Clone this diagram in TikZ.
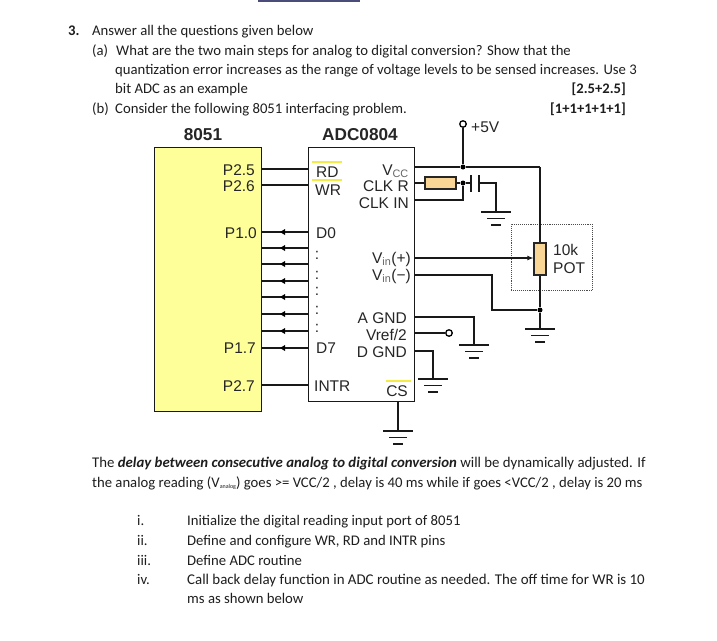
\documentclass[tikz,border=0pt]{standalone}
\usepackage{fontspec}
\setmainfont{Carlito}
\newfontfamily\diagfont{Liberation Sans}
\usetikzlibrary{arrows.meta}
\definecolor{chipyellow}{RGB}{255,255,153}
\definecolor{resfill}{RGB}{250,214,150}
\definecolor{barline}{RGB}{245,235,70}
\definecolor{inktext}{RGB}{30,30,30}
\tikzset{
  x=1pt,y=-1pt,
  body/.style={anchor=base west,inner sep=0,text=inktext,font=\fontsize{14.7}{17}\selectfont},
  bodyb/.style={inner sep=0,anchor=base east,text=inktext,font=\bfseries\fontsize{14.6}{17}\selectfont},
  lbl/.style={inner sep=0,text=black!85,font=\diagfont\fontsize{15.5}{18}\selectfont},
  lblw/.style={lbl,anchor=base west},
  lble/.style={lbl,anchor=base east},
  ttl/.style={lbl,anchor=base,font=\diagfont\bfseries\fontsize{17.2}{19}\selectfont},
  wire/.style={line width=1.1pt,draw=black!90},
  thick wire/.style={line width=1.5pt,draw=black!90},
  chip/.style={draw=black!90,line width=1.3pt,inner sep=0,minimum width=0},
  bar/.style={draw=barline,line width=1.3pt},
  res/.style={draw=black!85,line width=1.2pt,fill=resfill},
  dot/.style={circle,fill=black,inner sep=0,minimum size=5pt},
  open/.style={circle,draw=black,line width=1.3pt,fill=white,inner sep=0,minimum size=6.5pt},
  gnd/.pic={
    \draw[thick wire] (-15,0) -- (15,0);
    \draw[thick wire] (-9,6.5) -- (9,6.5);
    \draw[thick wire] (-5,13) -- (5,13);
  },
}
\begin{document}
\begin{tikzpicture}
\useasboundingbox (0,0) rectangle (717,640);
\fill[fill=white] (0,0) rectangle (717,640);
\fill[black!55!blue!40!gray] (258,0) rectangle (360,1.5);

% question text
\node[body,font=\bfseries\fontsize{14.7}{17}\selectfont] (qno) at (68,35.7) {3.};
\node[body] (t1) at (92,35.7) {Answer all the questions given below};
\node[body] (t2a) at (92,55) {(a)};
\node[body] (t2) at (116,55) {What are the two main steps for analog to digital conversion? Show that the};
\node[body] (t3) at (115,74.5) {quantization error increases as the range of voltage levels to be sensed increases. Use 3};
\node[body] (t4) at (115,93.5) {bit ADC as an example};
\node[bodyb] (m1) at (626,93.5) {[2.5+2.5]};
\node[body] (t5a) at (92,113) {(b)};
\node[body] (t5) at (115,113) {Consider the following 8051 interfacing problem.};
\node[bodyb] (m2) at (626,113) {[1+1+1+1+1]};

% chips
\node[chip,fill=chipyellow,anchor=north west,minimum width=107pt,minimum height=264pt] (mcu) at (154,147) {};
\node[chip,fill=white,anchor=north west,minimum width=106pt,minimum height=254pt] (adc) at (308,147) {};
\node[ttl] (mcut) at (203,140) {8051};
\node[ttl] (adct) at (360,140) {ADC0804};

% control lines
\foreach \n/\y in {p25/169,p26/185,intr/385} {
  \coordinate (\n m) at (261,\y);
  \coordinate (\n a) at (308,\y);
  \draw[thick wire] (\n m) -- (\n a);
}
% data lines
\foreach \n/\y in {0/232,1/248,2/264,3/281,4/297,5/314,6/331,7/348} {
  \coordinate (d\n m) at (261,\y);
  \coordinate (d\n a) at (308,\y);
  \coordinate (d\n t) at (280,\y);
  \draw[thick wire] (d\n a) -- (d\n t);
  \draw[thick wire] (d\n t) -- (d\n m);
  \fill[black] (d\n t) -- +(5,-3) -- +(5,3) -- cycle;
}

% pin labels, 8051
\node[lble] (lp25) at (255,175) {P2.5};
\node[lble] (lp26) at (255,191) {P2.6};
\node[lble] (lp10) at (257,238) {P1.0};
\node[lble] (lp17) at (256,353) {P1.7};
\node[lble] (lp27) at (255,391) {P2.7};

% pin labels, ADC
\node[lblw] (lrd) at (316,177) {RD};
\node[lblw] (lwr) at (315,195) {WR};
\node[lblw] (ld0) at (316,238) {D0};
\foreach \i/\y in {a/259,b/279,c/295,d/314,e/332} {
  \node[lbl,anchor=base] (dots\i) at (317,\y) {:};
}
\node[lblw] (ld7) at (316,353) {D7};
\node[lblw] (lintr) at (314,391) {INTR};
\node[lble] (lvcc) at (409,175) {V\textsubscript{\textcolor{black!60}{CC}}};
\node[lble] (lclkr) at (409,191) {CLK R};
\node[lble] (lclki) at (409,208) {CLK IN};
\node[lble] (lvp) at (411,263) {V\textsubscript{\textcolor{black!60}{in}}(+)};
\node[lble] (lvm) at (411,280) {V\textsubscript{\textcolor{black!60}{in}}(−)};
\node[lble] (lagnd) at (407,323) {A GND};
\node[lble] (lvref) at (407,340) {Vref/2};
\node[lble] (ldgnd) at (407,357) {D GND};
\node[lble] (lcs) at (408,396) {CS};
\draw[bar] (312,162) -- (342,162);
\draw[bar] (312,180) -- (342,180);
\draw[bar] (386,381) -- (411,381);

% named points of the analog side
\coordinate (vccpin) at (414,167);
\coordinate (clkrpin) at (414,183);
\coordinate (clkipin) at (414,200);
\coordinate (vppin) at (414,258);
\coordinate (vmpin) at (414,275);
\coordinate (agpin) at (414,317);
\coordinate (vrpin) at (414,333);
\coordinate (dgpin) at (414,351);
\coordinate (cspin) at (398,401);
\coordinate (vmturn) at (492,275);
\coordinate (clkturn) at (463,200);
\coordinate (capturn) at (496,183);
\coordinate (potturn) at (540,167);
\coordinate (agturn) at (474,317);
\coordinate (dgturn) at (433,351);
\coordinate (g1) at (496,212);
\coordinate (g2) at (540,329);
\coordinate (g3) at (474,345);
\coordinate (g4) at (433,379);
\coordinate (g5) at (398,431);

\node[dot] (jvcc) at (463,167) {};
\node[open] (p5v) at (463,124) {};
\node[lblw] (l5v) at (471,132) {+5V};
\node[dot] (jclk) at (463,183) {};
\node[dot] (jgnd) at (540,310) {};
\node[open] (vrout) at (449,333) {};

% supply
\draw[wire] (vccpin) -- (jvcc);
\draw[thick wire] (jvcc) -- (p5v);
\draw[wire] (jvcc) -- (potturn);

% RC clock
\node[res,draw,minimum width=31pt,minimum height=12pt,inner sep=0] (rclk) at (440.5,183) {};
\coordinate (c1) at (471,183);
\coordinate (c2) at (479,183);
\draw[wire] (clkrpin) -- (rclk);
\draw[thick wire] (rclk) -- (jclk);
\draw[thick wire] (jclk) -- (c1);
\draw[thick wire] (c1 |- 0,175) -- (c1 |- 0,192);
\draw[thick wire] (c2 |- 0,175) -- (c2 |- 0,192);
\draw[wire] (c2) -- (capturn) -- (g1);
\draw[wire] (clkipin) -- (clkturn) -- (jclk);
\pic at (g1) {gnd};

% pot
\node[draw=black!70,densely dotted,line width=.9pt,anchor=north west,minimum width=81pt,minimum height=66pt,inner sep=0] (potbox) at (511,224) {};
\node[res,draw,minimum width=12pt,minimum height=32pt,inner sep=0] (pot) at (540,259) {};
\node[lblw] (l10k) at (553,255) {10k};
\node[lblw] (lpot) at (553,273) {POT};
\draw[wire] (potturn) -- (pot);
\draw[thick wire] (pot) -- (jgnd);
\draw[thick wire] (jgnd) -- (g2);
\draw[wire,-{Latex[length=6pt,width=5pt]}] (vppin) -- (pot.west |- vppin);
\draw[wire] (vmpin) -- (vmturn) -- (vmturn |- jgnd) -- (jgnd);
\pic at (g2) {gnd};

% grounds
\draw[wire] (agpin) -- (agturn) -- (g3);
\draw[wire] (vrpin) -- (vrout);
\draw[wire] (dgpin) -- (dgturn) -- (g4);
\draw[thick wire] (cspin) -- (g5);
\pic at (g3) {gnd};
\pic at (g4) {gnd};
\pic at (g5) {gnd};

% lower text
\node[body,font=\fontsize{14.8}{17}\selectfont] (b1) at (92,467) {The \textbf{\textit{delay between consecutive analog to digital conversion}} will be dynamically adjusted. If};
\node[body] (b2) at (92,487) {the analog reading (V{\fontsize{6}{6}\selectfont\raisebox{-1pt}{analog}}) goes >= VCC/2 , delay is 40 ms while if goes <VCC/2 , delay is 20 ms};
\node[body] (li) at (137,525) {i.};
\node[body] (lii) at (137,545) {ii.};
\node[body] (liii) at (137,565) {iii.};
\node[body] (liv) at (137,584) {iv.};
\node[body] (i1) at (187,525) {Initialize the digital reading input port of 8051};
\node[body] (i2) at (187,545) {Define and configure WR, RD and INTR pins};
\node[body] (i3) at (187,565) {Define ADC routine};
\node[body,font=\fontsize{14.9}{17}\selectfont] (i4) at (187,584) {Call back delay function in ADC routine as needed. The off time for WR is 10};
\node[body] (i5) at (187,603) {ms as shown below};
\end{tikzpicture}
\end{document}
